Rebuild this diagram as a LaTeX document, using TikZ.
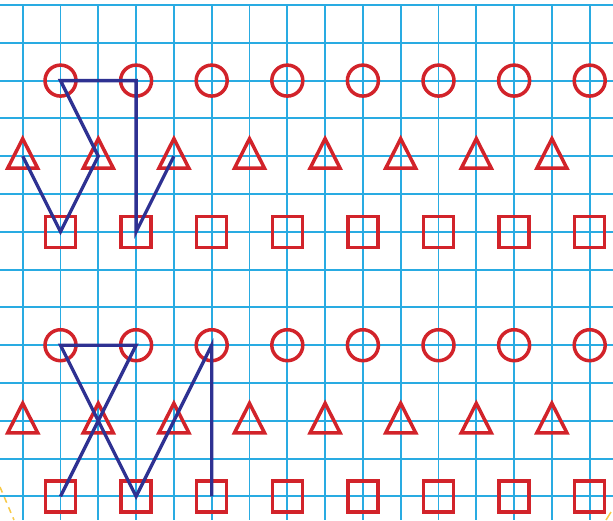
\documentclass[tikz,border=0pt]{standalone}
\usetikzlibrary{calc}
\definecolor{gridc}{HTML}{29ABE2}
\definecolor{redc}{HTML}{D2232A}
\definecolor{bluec}{HTML}{2E3192}
\definecolor{yelc}{HTML}{F7C948}
\tikzset{
  gridline/.style={draw=gridc, line width=1.9pt},
  redshape/.style={draw=redc, line width=3.5pt},
  bluepath/.style={draw=bluec, line width=3.3pt, line join=miter, line cap=butt},
}
\begin{document}
\begin{tikzpicture}[x=1pt,y=-1pt]
\useasboundingbox (0,0) rectangle (613,520);
\fill[white] (0,0) rectangle (613,520);
% grid
\foreach \i in {0,...,15}{
  \draw[gridline] ({22.7+37.8*\i},4) -- ({22.7+37.8*\i},520);
}
\foreach \j in {0,...,13}{
  \draw[gridline] (0,{5+37.8*\j}) -- (613,{5+37.8*\j});
}
% named positions
\foreach \g/\oy in {1/0,2/7}{
  \foreach \i in {0,...,7}{
    \coordinate (c\g-\i) at ({60.5+75.6*\i},{5+37.8*(2+\oy)});
    \coordinate (t\g-\i) at ({22.7+75.6*\i},{5+37.8*(4+\oy)});
    \coordinate (s\g-\i) at ({60.5+75.6*\i},{5+37.8*(6+\oy)});
  }
}
% red shapes
\foreach \g in {1,2}{
  \foreach \i in {0,...,7}{
    \draw[redshape] (c\g-\i) circle[radius=15.5];
    \draw[redshape] ($(t\g-\i)+(0,-17.5)$) -- ($(t\g-\i)+(15,12)$) -- ($(t\g-\i)+(-15,12)$) -- cycle;
    \draw[redshape] ($(s\g-\i)+(-15,-15.5)$) rectangle ($(s\g-\i)+(15,15.5)$);
  }
}
% blue paths
\draw[bluepath] (t1-0) -- (s1-0) -- (t1-1) -- (c1-0) -- (c1-1) -- (s1-1) -- (t1-2);
\draw[bluepath] (s2-0) -- (c2-1) -- (c2-0) -- (s2-1) -- (c2-2) -- (s2-2);
% small yellow dashes at corners
\draw[yelc, line width=1.5pt, dash pattern=on 6pt off 5pt] (0,487) -- (14,520);
\draw[yelc, line width=1.5pt] (606,520) -- (611,512);
\end{tikzpicture}
\end{document}
